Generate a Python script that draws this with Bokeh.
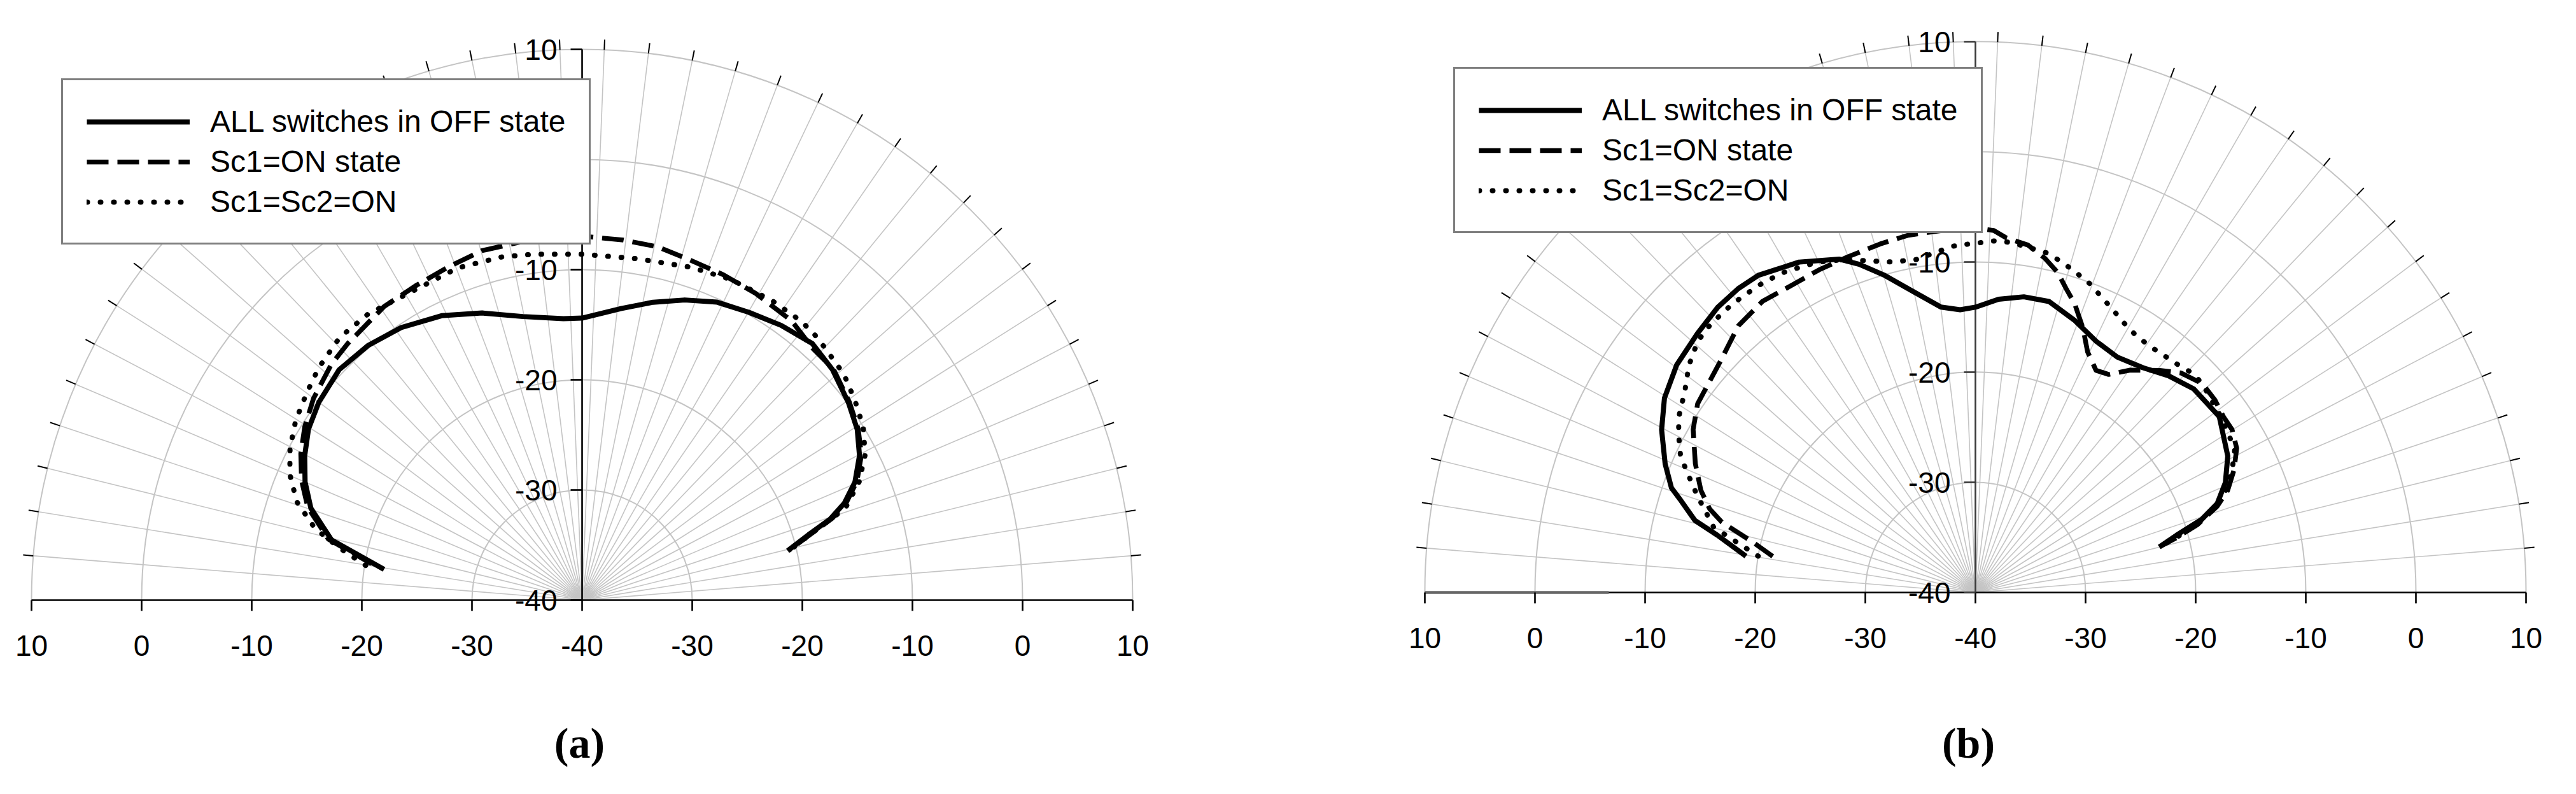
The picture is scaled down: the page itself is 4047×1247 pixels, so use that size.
import numpy as np
from bokeh.plotting import figure
from bokeh.layouts import row
from bokeh.models import Range1d, Legend, LegendItem
from bokeh.core.properties import value
from bokeh.embed import file_html
from bokeh.resources import INLINE

# ---------------- axis definitions ----------------
R_MIN = -40
R_MAX = 10
RING_VALUES = [-30, -20, -10, 0, 10]
VAXIS_TICKS = [10, 0, -10, -20, -30, -40]
VAXIS_LABELS = ["10", "0", "-10", "-20", "-30", "-40"]
XAXIS_TICKS = [10, 0, -10, -20, -30, -40, -30, -20, -10, 0, 10]
XAXIS_SIDE = [-1, -1, -1, -1, -1, 0, 1, 1, 1, 1, 1]
XAXIS_LABELS = ["10", "0", "-10", "-20", "-30", "-40", "-30", "-20", "-10", "0", "10"]
N_SPOKES = 39  # angular grid divisions over the half circle
SERIES_NAMES = ["ALL switches in OFF state", "Sc1=ON state", "Sc1=Sc2=ON"]
PANEL_TAGS = ["(a)", "(b)"]

# ---------------- panel (a) data: angle (deg from broadside), level (dB) ----------------
a_off_ang = [-81.2, -76.5, -71.3, -66.9, -62.5, -58.0, -53.1, -46.5, -40.1, -33.6, -26.3, -19.2, -11.8, -3.8, 0.0,
             7.6, 13.4, 18.9, 24.4, 30.1, 35.9, 41.9, 47.4, 53.5, 58.2, 62.5, 66.6, 69.7, 71.9, 73.9, 76.5]
a_off_db = [-21.8, -16.6, -14.0, -12.65, -11.6, -10.7, -10.1, -9.6, -9.8, -10.3, -11.2, -12.4, -13.7, -14.4, -14.4,
            -13.3, -12.2, -11.2, -10.3, -9.8, -9.2, -8.7, -9.1, -9.9, -10.6, -11.6, -13.0, -14.6, -16.3, -18.6, -20.8]

a_son_ang = [-80.2, -76.5, -71.3, -66.9, -62.5, -58.0, -53.1, -46.8, -42.4, -34.0, -27.7, -21.7, -16.0, -9.4, 0.0,
             6.55, 12.0, 17.5, 23.5, 29.5, 36.9, 42.5, 47.4, 53.5, 58.2, 62.5, 66.6, 69.7, 71.9, 73.9, 76.5]
a_son_db = [-20.6, -16.3, -13.7, -12.3, -11.2, -10.3, -9.5, -8.75, -8.45, -7.85, -7.7, -7.4, -7.0, -7.0, -6.96,
            -7.1, -7.2, -7.6, -7.8, -8.0, -8.3, -9.0, -9.0, -9.8, -10.5, -11.4, -12.8, -14.4, -16.1, -18.4, -20.7]

a_s12_ang = [-80.9, -77.9, -75.0, -71.0, -66.7, -62.5, -57.9, -53.0, -48.5, -42.75, -36.8, -20.5, -13.1, -7.8, 0.0,
             9.2, 18.2, 25.0, 32.5, 37.9, 40.7, 43.8, 49.2, 53.8, 58.3, 62.8, 66.9, 68.6, 70.8, 73.9, 76.5]
a_s12_db = [-20.1, -17.5, -14.9, -12.6, -11.1, -10.1, -9.3, -8.7, -8.1, -7.55, -7.56, -7.8, -8.0, -8.3, -8.6,
            -8.6, -8.2, -7.9, -7.8, -7.8, -7.9, -8.2, -8.6, -9.3, -10.0, -11.1, -12.65, -13.6, -14.7, -18.4, -20.6]

# ---------------- panel (b) data ----------------
b_off_ang = [-81.0, -77.5, -75.6, -72.7, -71.0, -67.5, -62.6, -58.0, -52.7, -47.0, -42.1, -38.0, -34.4, -28.1,
             -22.25, -19.5, -16.1, -11.8, -6.9, -3.1, 0.0, 4.5, 9.3, 14.2, 20.0, 25.7, 31.1, 36.7, 41.7, 47.0,
             54.2, 61.6, 66.25, 69.8, 72.1, 74.1, 76.1]
b_off_db = [-18.9, -16.0, -13.7, -12.0, -10.8, -9.5, -7.9, -6.7, -5.9, -5.5, -5.1, -5.0, -5.1, -6.0,
            -7.3, -8.4, -10.0, -12.05, -13.9, -14.3, -14.1, -13.3, -12.8, -12.75, -13.7, -14.7, -15.05, -14.55,
            -13.65, -12.9, -12.7, -13.95, -15.2, -16.6, -18.4, -21.0, -22.8]

b_son_ang = [-79.9, -77.4, -74.5, -72.55, -69.6, -65.3, -60.0, -55.8, -47.5, -41.65, -36.2, -31.1, -25.9, -20.9,
             -15.3, -10.65, -5.5, 0.0, 2.9, 5.0, 8.6, 11.7, 14.4, 16.6, 19.0, 22.15, 25.0, 28.5, 31.45, 34.85,
             39.7, 43.1, 47.4, 51.2, 54.7, 57.6, 61.1, 64.6, 68.0, 70.4, 73.0, 74.8, 76.1]
b_son_db = [-21.3, -19.4, -16.1, -14.7, -13.4, -12.0, -10.4, -9.5, -8.7, -7.6, -7.25, -7.5, -7.45, -7.4,
            -7.2, -7.0, -7.0, -6.9, -7.1, -7.7, -8.1, -9.0, -10.0, -11.2, -12.3, -14.1, -15.9, -17.05, -16.8,
            -15.4, -13.8, -12.7, -12.0, -12.1, -12.4, -12.4, -12.9, -14.0, -15.3, -16.7, -18.9, -21.1, -22.8]

b_s12_ang = [-80.5, -76.0, -70.8, -68.1, -65.2, -62.1, -59.4, -55.3, -51.6, -47.9, -44.9, -41.45, -38.3, -34.6,
             -31.1, -27.85, -25.4, -21.6, -14.2, -10.1, -5.8, -3.7, -1.8, 3.0, 5.8, 11.9, 14.7, 17.2, 20.3, 25.9,
             28.8, 32.1, 35.6, 38.5, 41.3, 44.6, 47.3, 54.7, 61.1, 64.6, 68.0, 70.4, 73.0, 74.8, 76.1]
b_s12_db = [-20.0, -15.5, -13.25, -12.0, -10.5, -9.5, -8.7, -7.9, -6.8, -6.0, -5.8, -5.75, -5.8, -5.9,
            -6.1, -6.5, -6.8, -7.5, -9.05, -9.3, -8.8, -8.5, -8.4, -8.05, -8.05, -8.5, -9.0, -9.5, -10.1, -11.45,
            -12.05, -12.5, -12.6, -12.5, -12.35, -12.0, -12.0, -12.6, -13.1, -14.2, -15.5, -16.9, -19.1, -21.2, -22.8]

# ---------------- styling / layout ----------------
K = 17.3           # pixels per dB
H = 1228
FONT = "Liberation Sans"
GRID_COLOR = "#c4c4c4"


def to_xy(ang, db):
    a = np.radians(np.asarray(ang, dtype=float))
    rho = np.asarray(db, dtype=float) - R_MIN
    return rho * np.sin(a), rho * np.cos(a)


def make_panel(width, cx_px, cy_px, series, tag, legend_px, axis_color, gray_axis_to=None):
    p = figure(width=width, height=H, output_backend="svg", toolbar_location=None,
               x_axis_type=None, y_axis_type=None, min_border=0,
               x_range=Range1d(-cx_px / K, (width - cx_px) / K),
               y_range=Range1d(-(H - cy_px) / K, cy_px / K))
    p.outline_line_color = None
    p.grid.visible = False
    p.background_fill_color = "white"
    p.border_fill_color = "white"

    rmax = R_MAX - R_MIN
    # radial spokes
    th = np.radians(np.arange(1, N_SPOKES) * 180.0 / N_SPOKES)
    p.segment(x0=0, y0=0, x1=rmax * np.cos(th), y1=rmax * np.sin(th),
              line_color=GRID_COLOR, line_width=1.6)
    # rings
    rings = [v - R_MIN for v in RING_VALUES]
    p.arc(x=0, y=0, radius=rings, start_angle=0, end_angle=np.pi,
          line_color=GRID_COLOR, line_width=2)
    # outer angular ticks
    tl = 16 / K
    p.segment(x0=rmax * np.cos(th), y0=rmax * np.sin(th),
              x1=(rmax + tl) * np.cos(th), y1=(rmax + tl) * np.sin(th),
              line_color="black", line_width=2)

    # horizontal axis
    p.segment(x0=-rmax, y0=0, x1=rmax, y1=0, line_color="black", line_width=2.6)
    if gray_axis_to is not None:
        p.segment(x0=-rmax, y0=0, x1=-(gray_axis_to - R_MIN), y1=0, line_color="#666666", line_width=4.5)
    xt = [s * (t - R_MIN) for s, t in zip(XAXIS_SIDE, XAXIS_TICKS)]
    p.segment(x0=xt, y0=0, x1=xt, y1=-17 / K, line_color="black", line_width=2.6)
    p.text(x=xt, y=[-71 / K] * len(xt), text=XAXIS_LABELS, text_font=value(FONT),
           text_font_size="46px", text_align="center", text_baseline="middle", text_color="black")

    # vertical axis
    p.segment(x0=0, y0=0, x1=0, y1=rmax, line_color=axis_color, line_width=2.6)
    vt = [t - R_MIN for t in VAXIS_TICKS]
    p.segment(x0=0, y0=vt, x1=-18 / K, y1=vt, line_color=axis_color, line_width=2.6)
    p.text(x=[-39 / K] * len(vt), y=vt, text=VAXIS_LABELS, text_font=value(FONT),
           text_font_size="46px", text_align="right", text_baseline="middle", text_color="black")

    # data series
    styles = [dict(line_width=8), dict(line_width=7.5, line_dash="34 14"),
              dict(line_width=8, line_dash="1 20", line_cap="round")]
    rends = []
    for (ang, db), st in zip(series, styles):
        x, y = to_xy(ang, db)
        r = p.line(x, y, line_color="black", line_join="round", **st)
        rends.append(r)

    # caption
    p.text(x=[tag[1]], y=[tag[2]], text=[tag[0]], text_font=value("Liberation Serif"),
           text_font_size="68px", text_font_style="bold", text_align="center",
           text_baseline="middle", text_color="black")

    legend = Legend(items=[LegendItem(label=n, renderers=[r]) for n, r in zip(SERIES_NAMES, rends)],
                    location=legend_px, margin=0, padding=37, spacing=8,
                    glyph_width=162, glyph_height=54, label_height=54, label_standoff=32,
                    label_text_font=FONT, label_text_font_size="48px", label_text_color="black",
                    border_line_color="black", border_line_width=3,
                    background_fill_color="white", background_fill_alpha=1.0)
    p.add_layout(legend)
    return p


W1 = 2013
W2 = 2016
# panel a: centre at page (922, 950); panel b: centre at page (3111, 938)
pa = make_panel(W1, 914, 942,
                [(a_off_ang, a_off_db), (a_son_ang, a_son_db), (a_s12_ang, a_s12_db)],
                (PANEL_TAGS[0], -4 / K, -224 / K), (96, H - 384), "black")
pb = make_panel(W2, 3111 - 8 - W1, 930,
                [(b_off_ang, b_off_db), (b_son_ang, b_son_db), (b_s12_ang, b_s12_db)],
                (PANEL_TAGS[1], -11 / K, -236 / K), (2291 - 8 - W1, H - 366), "#3a3a3a",
                gray_axis_to=-6.7)

layout = row(pa, pb)
open("out.html", "w").write(file_html(layout, INLINE))
